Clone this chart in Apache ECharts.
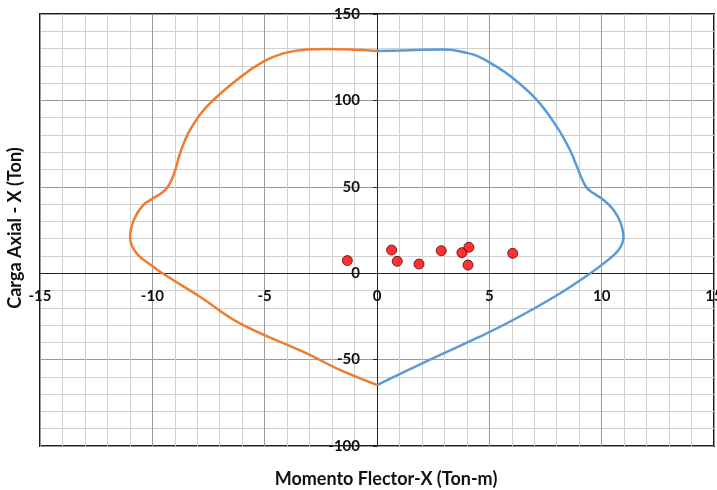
<!DOCTYPE html>
<html>
<head>
<meta charset="utf-8">
<script src="https://cdn.jsdelivr.net/npm/echarts@6/dist/echarts.min.js"></script>
<style>
  html,body{margin:0;padding:0;background:#fff;}
  #chart{width:717px;height:490px;}
</style>
</head>
<body>
<div id="chart"></div>
<script>
// curva de interaccion, lado positivo (azul)
var curvaDerX=[0,1,2,3,4,4.5,5.2,5.93,7.12,8.0,8.6,8.95,9.3,9.64,10.09,10.53,10.85,10.97,10.75,10.09,9.5,8.16,6.1,4.5,2.2,0];
var curvaDerY=[128.6,128.9,129.3,129.4,127.5,125.5,120.5,114.1,100.2,84.8,71,60,50,46.2,42.4,36.6,29,21,13.4,5.7,0,-11.6,-26.8,-37.2,-51,-64.7];
// lado negativo (naranja)
var curvaIzqX=[0,-1.2,-2.2,-3.13,-4.17,-5.06,-6.1,-7.58,-8.32,-8.75,-9.05,-9.4,-10.03,-10.4,-10.8,-10.99,-10.7,-9.96,-9.43,-7.88,-6.1,-3.13,-1.65,0];
var curvaIzqY=[128.6,129.5,129.8,129.5,127.2,122.4,113.3,96.4,82.9,70,57,48.5,42.8,39.5,31.5,21.1,11.5,3.8,-1,-13.6,-29,-46.4,-56,-64.7];
// cargas actuantes
var cargasX=[-1.32,0.65,0.9,1.87,2.86,3.78,4.09,4.05,6.04];
var cargasY=[7.3,13.4,6.9,5.3,13.0,11.9,15.0,4.7,11.5];

var zip=function(xs,ys){
  var out=[];
  for(var i=0;i<xs.length;i++){ out.push([xs[i],ys[i]]); }
  return out;
};

var fuente="Lato, 'Open Sans', sans-serif";
// area del grafico en pixeles
var gLeft=40, gTop=14, gRight=3, gBottom=44;
var gW=717-gLeft-gRight, gH=490-gTop-gBottom;
var xMin=-15, xMax=15, yMin=-100, yMax=150;
// desplazar los ejes hasta el cero
var offX=-(gH*(0-yMin)/(yMax-yMin));
var offY=-(gW*(0-xMin)/(xMax-xMin));

var chart=echarts.init(document.getElementById("chart"));
chart.setOption({
  animation:false,
  backgroundColor:"#fff",
  grid:{
    left:gLeft, top:gTop, right:gRight, bottom:gBottom,
    outerBoundsMode:"none", containLabel:false,
    show:true, borderColor:"#1a1a1a", borderWidth:2, backgroundColor:"#fff"
  },
  xAxis:{
    type:"value", min:xMin, max:xMax, interval:5, position:"bottom", offset:offX,
    axisLine:{show:true, onZero:false, lineStyle:{color:"#222", width:1}},
    axisTick:{show:false},
    axisLabel:{color:"#111", fontFamily:fuente, fontWeight:"bold", fontSize:15, margin:15, showMinLabel:true, showMaxLabel:true},
    splitLine:{show:true, lineStyle:{color:"#9a9a9a", width:1}},
    minorTick:{show:false, splitNumber:5},
    minorSplitLine:{show:true, lineStyle:{color:"#d0d0d0", width:1}}
  },
  yAxis:{
    type:"value", min:yMin, max:yMax, interval:50, position:"left", offset:offY,
    axisLine:{show:true, onZero:false, lineStyle:{color:"#222", width:1}},
    axisTick:{show:true, length:4, lineStyle:{color:"#222"}},
    axisLabel:{color:"#111", fontFamily:fuente, fontWeight:"bold", fontSize:15, margin:17, showMinLabel:true, showMaxLabel:true},
    splitLine:{show:true, lineStyle:{color:"#9a9a9a", width:1}},
    minorTick:{show:false, splitNumber:5},
    minorSplitLine:{show:true, lineStyle:{color:"#d0d0d0", width:1}}
  },
  graphic:[
    {type:"text", x:386, y:470, style:{text:"Momento Flector-X (Ton-m)", font:"bold 18px "+fuente, fill:"#111", align:"center", verticalAlign:"top"}},
    {type:"text", x:6, y:228, rotation:Math.PI/2, style:{text:"Carga Axial - X (Ton)", font:"bold 18px "+fuente, fill:"#111", align:"center", verticalAlign:"top"}}
  ],
  series:[
    {
      name:"Positivo", type:"line", data:zip(curvaDerX,curvaDerY),
      smooth:0.4, showSymbol:false, lineStyle:{color:"#5b9bd5", width:2.5}, z:3
    },
    {
      name:"Negativo", type:"line", data:zip(curvaIzqX,curvaIzqY),
      smooth:0.4, showSymbol:false, lineStyle:{color:"#ed7d31", width:2.5}, z:3
    },
    {
      name:"Cargas", type:"scatter", data:zip(cargasX,cargasY),
      symbolSize:10, itemStyle:{color:"#ff0000", borderColor:"#5a0000", borderWidth:1}, z:4
    }
  ]
});
</script>
</body>
</html>
